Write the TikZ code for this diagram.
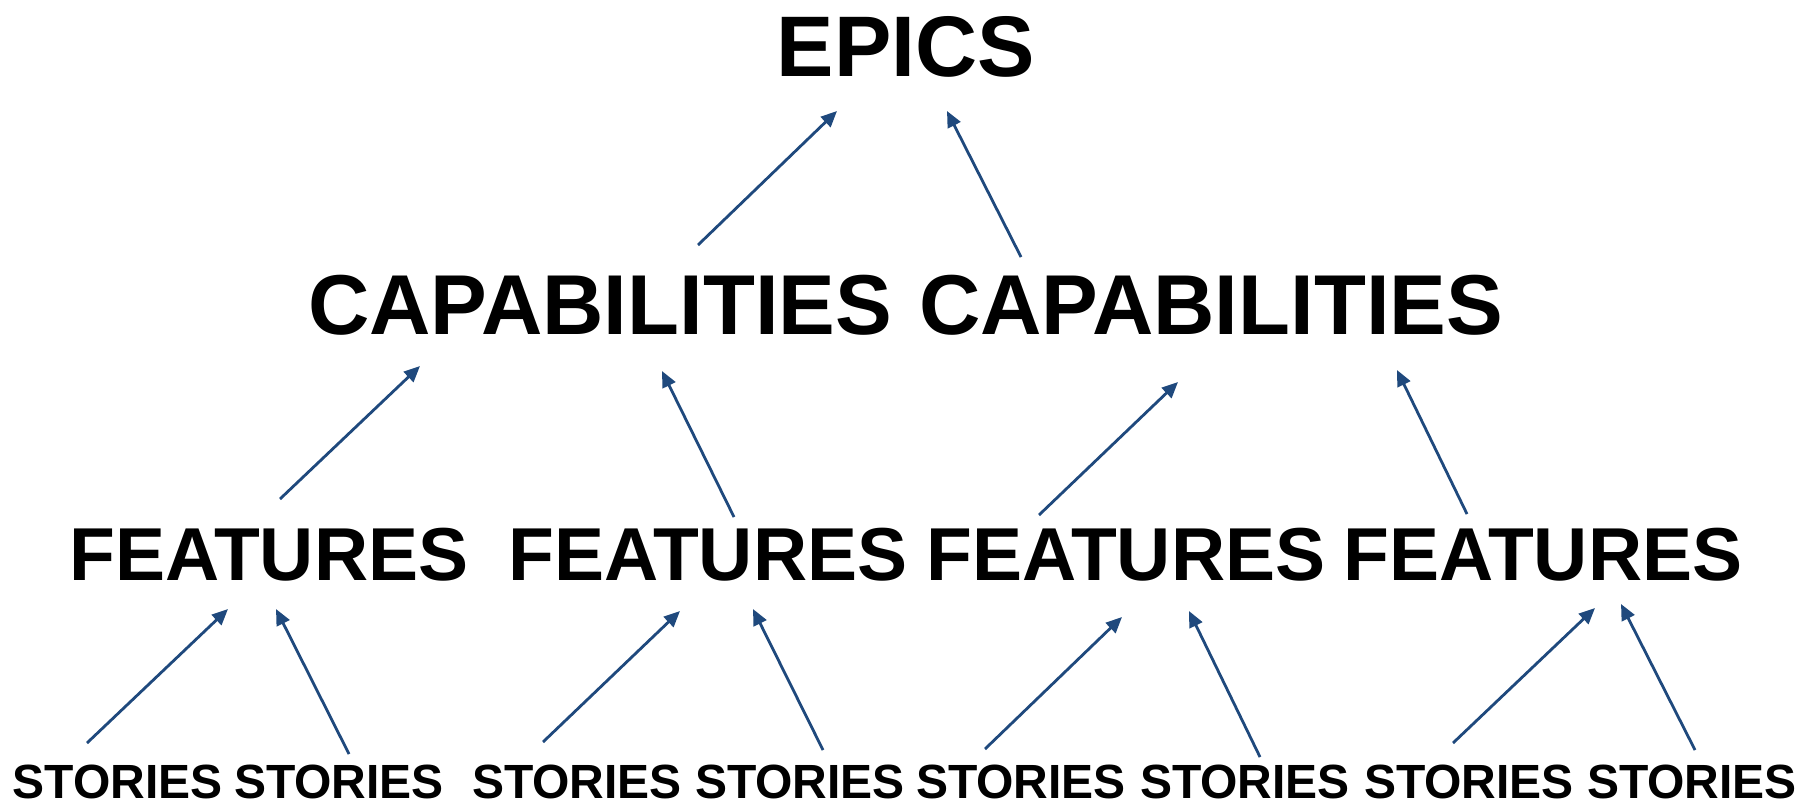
\documentclass[tikz,border=0pt]{standalone}
\usepackage{fontspec}
\setmainfont{Liberation Sans}
\usetikzlibrary{arrows.meta}
\definecolor{linkblue}{HTML}{1F497D}
\begin{document}
\begin{tikzpicture}[x=1pt,y=-1pt,
  lvl/.style={inner sep=0pt,anchor=base,font=\bfseries},
  epic/.style={lvl,font=\bfseries\fontsize{86}{86}\selectfont},
  capa/.style={lvl,font=\bfseries\fontsize{85}{85}\selectfont},
  feat/.style={lvl,font=\bfseries\fontsize{75}{75}\selectfont},
  story/.style={lvl,font=\bfseries\fontsize{48}{48}\selectfont},
  link/.style={draw=linkblue,line width=2.8pt,-{Triangle[length=16pt,width=14pt]},fill=linkblue}]
\useasboundingbox (0,0) rectangle (1814,804);

% levels of the hierarchy
\node[epic] (epics) at (906,76) {EPICS};
\node[capa] (cap1) at (600,334) {CAPABILITIES};
\node[capa] (cap2) at (1211,334) {CAPABILITIES};
\node[feat] (f1) at (269,580) {FEATURES};
\node[feat] (f2) at (708,580) {FEATURES};
\node[feat] (f3) at (1126,580) {FEATURES};
\node[feat] (f4) at (1543,580) {FEATURES};
\node[story] (s1) at (117.5,798) {STORIES};
\node[story] (s2) at (339,798) {STORIES};
\node[story] (s3) at (577,798) {STORIES};
\node[story] (s4) at (800,798) {STORIES};
\node[story] (s5) at (1021,798) {STORIES};
\node[story] (s6) at (1245,798) {STORIES};
\node[story] (s7) at (1469,798) {STORIES};
\node[story] (s8) at (1692,798) {STORIES};

% arrow end points
\coordinate (ea1) at (698,245);  \coordinate (eb1) at (837,111);
\coordinate (ea2) at (1021,257); \coordinate (eb2) at (947,111);
\coordinate (ca1) at (280,499);  \coordinate (cb1) at (420,366);
\coordinate (ca2) at (734,517);  \coordinate (cb2) at (662,371);
\coordinate (ca3) at (1039,515); \coordinate (cb3) at (1178,382);
\coordinate (ca4) at (1467,514); \coordinate (cb4) at (1397,370);
\coordinate (fa1) at (87,743);   \coordinate (fb1) at (228,609);
\coordinate (fa2) at (349,754);  \coordinate (fb2) at (276,609);
\coordinate (fa3) at (543,742);  \coordinate (fb3) at (680,611);
\coordinate (fa4) at (823,750);  \coordinate (fb4) at (753,609);
\coordinate (fa5) at (985,749);  \coordinate (fb5) at (1122,617);
\coordinate (fa6) at (1260,757); \coordinate (fb6) at (1189,611);
\coordinate (fa7) at (1453,743); \coordinate (fb7) at (1595,608);
\coordinate (fa8) at (1695,750); \coordinate (fb8) at (1621,604);

% capabilities -> epics
\draw[link] (ea1) -- (eb1);
\draw[link] (ea2) -- (eb2);
% features -> capabilities
\foreach \i in {1,...,4} \draw[link] (ca\i) -- (cb\i);
% stories -> features
\foreach \i in {1,...,8} \draw[link] (fa\i) -- (fb\i);
\end{tikzpicture}
\end{document}
